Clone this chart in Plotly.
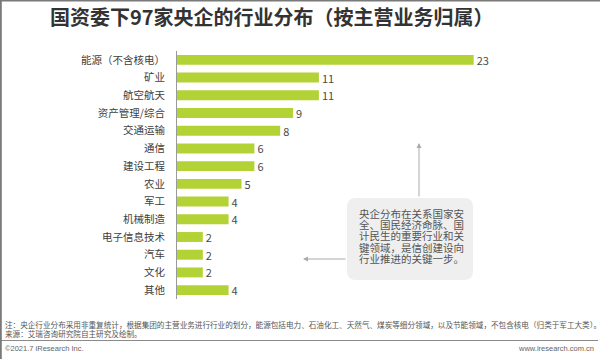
import plotly.graph_objects as go

categories = ["能源（不含核电）", "矿业", "航空航天", "资产管理/综合", "交通运输", "通信", "建设工程",
              "农业", "军工", "机械制造", "电子信息技术", "汽车", "文化", "其他"]
values = [23, 11, 11, 9, 8, 6, 6, 5, 4, 4, 2, 2, 2, 4]

title_text = "国资委下97家央企的行业分布（按主营业务归属）"
box_lines = ["央企分布在关系国家安", "全、国民经济命脉、国", "计民生的重要行业和关",
             "键领域，是信创建设向", "行业推进的关键一步。"]
note1 = "注：央企行业分布采用非重复统计，根据集团的主营业务进行行业的划分，能源包括电力、石油化工、天然气、煤炭等细分领域，以及节能领域，不包含核电（归类于军工大类）。"
note2 = "来源：艾瑞咨询研究院自主研究及绘制。"
footer_left = "©2021.7 iResearch Inc."
footer_right = "www.iresearch.com.cn"

W, H = 600, 359
L, R, T, B = 177, 36, 51, 60
PW, PH = W - L - R, H - T - B
FONT = "Noto Sans CJK SC, Noto Sans, sans-serif"

def px(x):
    return (x - L) / PW

def py(y):
    return (H - B - y) / PH

fig = go.Figure(go.Bar(
    x=values, y=categories, orientation="h",
    marker=dict(color="#b3d236", line=dict(width=0)),
    text=[str(v) for v in values], textposition="outside",
    textfont=dict(size=11, color="#4a4a4a", family=FONT),
    constraintext="none",
    cliponaxis=False,
))

annotations = [
    dict(text=f"<b>{title_text}</b>", x=px(272), y=py(17), xref="paper", yref="paper",
         showarrow=False, font=dict(size=20, color="#333333", family=FONT), xanchor="center", yanchor="middle"),
    dict(text=note1, x=px(3), y=py(324), xref="paper", yref="paper", showarrow=False,
         font=dict(size=7.6, color="#555555", family=FONT), xanchor="left", yanchor="middle"),
    dict(text=note2, x=px(3), y=py(333), xref="paper", yref="paper", showarrow=False,
         font=dict(size=7.6, color="#555555", family=FONT), xanchor="left", yanchor="middle"),
    dict(text=footer_left, x=px(3), y=py(348), xref="paper", yref="paper", showarrow=False,
         font=dict(size=7.5, color="#666666", family="Liberation Sans, Arial"), xanchor="left", yanchor="middle"),
    dict(text=footer_right, x=px(596), y=py(348), xref="paper", yref="paper", showarrow=False,
         font=dict(size=7.5, color="#666666", family="Liberation Sans, Arial"), xanchor="right", yanchor="middle"),
    # arrows
    dict(text="", x=px(419), y=py(143), xref="paper", yref="paper", showarrow=True,
         ax=0, ay=55, arrowhead=2, arrowsize=1, arrowwidth=1, arrowcolor="#aaaaaa"),
    dict(text="", x=px(303), y=py(259), xref="paper", yref="paper", showarrow=True,
         ax=44, ay=0, arrowhead=2, arrowsize=1, arrowwidth=1, arrowcolor="#aaaaaa"),
]
for i, line in enumerate(box_lines):
    annotations.append(dict(text=line, x=px(357), y=py(213.3 + i * 11.25), xref="paper", yref="paper",
                            showarrow=False, font=dict(size=10.5, color="#555555", family=FONT),
                            xanchor="left", yanchor="middle"))

# rounded box
x0, x1, y0, y1 = px(347), px(473), py(280), py(198)
rx, ry = 9 / PW, 9 / PH
path = (f"M {x0+rx},{y0} L {x1-rx},{y0} Q {x1},{y0} {x1},{y0+ry} L {x1},{y1-ry} "
        f"Q {x1},{y1} {x1-rx},{y1} L {x0+rx},{y1} Q {x0},{y1} {x0},{y1-ry} "
        f"L {x0},{y0+ry} Q {x0},{y0} {x0+rx},{y0} Z")

shapes = [
    dict(type="path", path=path, xref="paper", yref="paper", fillcolor="#efefef", line=dict(width=0), layer="below"),
    dict(type="line", x0=px(0), x1=px(598), y0=py(340.5), y1=py(340.5), xref="paper", yref="paper",
         line=dict(color="#8a8a8a", width=1)),
    dict(type="line", x0=px(0), x1=px(600), y0=py(0.5), y1=py(0.5), xref="paper", yref="paper",
         line=dict(color="#7a7a7a", width=2)),
    dict(type="line", x0=px(0.8), x1=px(0.8), y0=py(0), y1=py(359), xref="paper", yref="paper",
         line=dict(color="#7a7a7a", width=2)),
]

fig.update_layout(
    width=W, height=H,
    margin=dict(l=L, r=R, t=T, b=B, pad=0),
    paper_bgcolor="white", plot_bgcolor="white",
    showlegend=False,
    bargap=0.44,
    font=dict(family=FONT, color="#404040"),
    xaxis=dict(range=[0, PW / 12.9], visible=False, fixedrange=True),
    yaxis=dict(categoryorder="array", categoryarray=categories, autorange="reversed",
               showline=True, linecolor="#9a9a9a", linewidth=1, showgrid=False, zeroline=False,
               ticks="", ticklabelstandoff=9, tickfont=dict(size=10.5, color="#404040", family=FONT)),
    annotations=annotations,
    shapes=shapes,
)

fig.write_html("out.html", config={"displayModeBar": False},
               post_script="document.body.style.margin='0';document.body.style.overflow='hidden';")
